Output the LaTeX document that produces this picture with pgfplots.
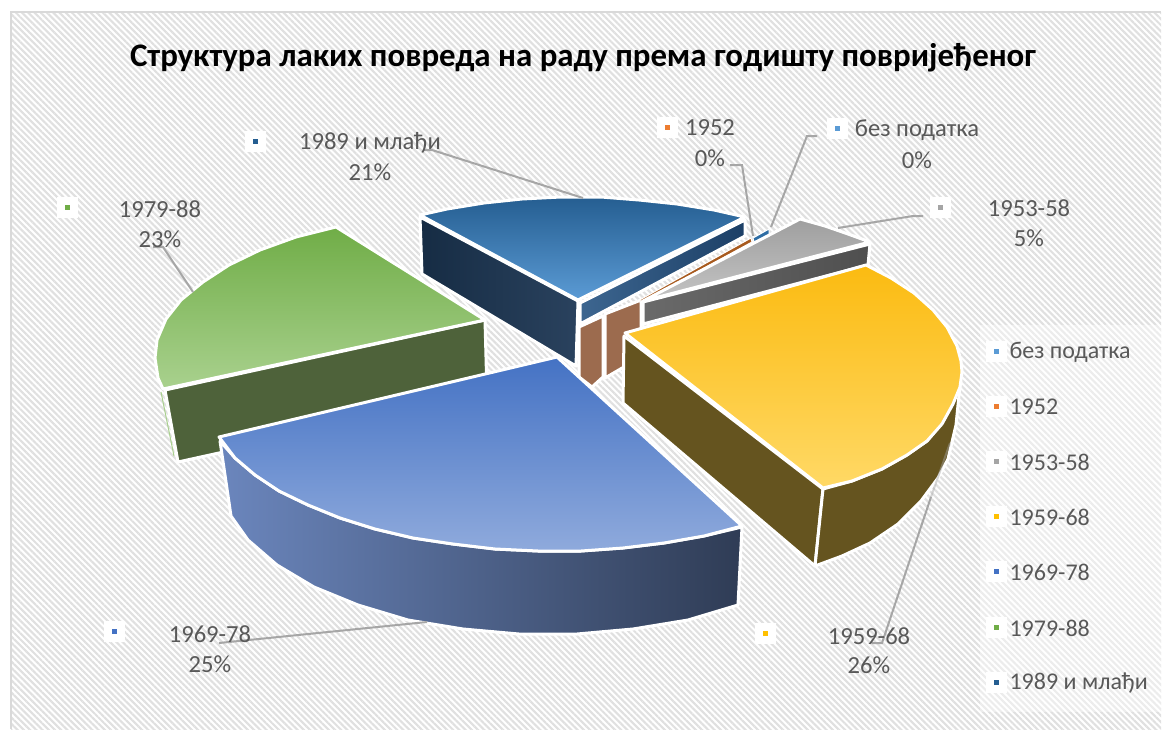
\documentclass[border=0pt]{standalone}
\usepackage{pgfplots}
\pgfplotsset{compat=1.18}
\usepackage{fontspec}
\setmainfont{Carlito}
\usetikzlibrary{patterns.meta}
\definecolor{lbl}{HTML}{595959}
\definecolor{lead}{HTML}{A6A6A6}
\definecolor{HTML1}{HTML}{162C44}\definecolor{HTML2}{HTML}{2A425E}
\definecolor{HTML3}{HTML}{3D6690}\definecolor{HTML4}{HTML}{1C3F66}
\definecolor{HTML5}{HTML}{255E91}\definecolor{HTML6}{HTML}{5B9BD5}
\definecolor{HTML7}{HTML}{9C6B4E}\definecolor{HTML8}{HTML}{A85A1E}\definecolor{HTML9}{HTML}{2E6DA4}
\definecolor{HTMLa}{HTML}{6A6A6A}\definecolor{HTMLb}{HTML}{4F4F4F}
\definecolor{HTMLc}{HTML}{9F9F9F}\definecolor{HTMLd}{HTML}{C4C4C4}
\definecolor{HTMLe}{HTML}{A9D18E}\definecolor{HTMLf}{HTML}{4E623A}
\definecolor{HTMLg}{HTML}{70AD47}\definecolor{HTMLh}{HTML}{A9D18E}
\definecolor{HTMLi}{HTML}{65541F}\definecolor{HTMLj}{HTML}{FBBB11}\definecolor{HTMLk}{HTML}{FFD966}
\definecolor{HTMLl}{HTML}{6B86BD}\definecolor{HTMLm}{HTML}{2F3C55}
\definecolor{HTMLn}{HTML}{4472C4}\definecolor{HTMLo}{HTML}{8FAADC}
\definecolor{HTMLp}{HTML}{5B9BD5}\definecolor{HTMLq}{HTML}{ED7D31}\definecolor{HTMLr}{HTML}{A5A5A5}
\definecolor{HTMLs}{HTML}{FFC000}\definecolor{HTMLt}{HTML}{4472C4}\definecolor{HTMLu}{HTML}{70AD47}\definecolor{HTMLv}{HTML}{255E91}
\pgfplotsset{
 face/.style={draw=white,line width=3pt,line join=round,forget plot},
 leader/.style={draw=lead,line width=2pt,forget plot},
 halo/.style={only marks,mark=square*,mark size=10pt,mark options={draw=white,fill=white},forget plot},
 dot/.style={only marks,mark=square*,mark size=2.2pt,mark options={draw=#1,fill=#1},forget plot},
}
\newcommand{\lab}[3]{\node[text=lbl,font=\fontsize{24.6}{28}\selectfont,anchor=center] at (axis cs:#1,#2) {#3};}
\newcommand{\leg}[2]{\node[text=lbl,font=\fontsize{24}{28}\selectfont,anchor=west] at (axis cs:1006,#1) {#2};}
\begin{document}
\begin{tikzpicture}
\path[use as bounding box] (0,0) rectangle (1162pt,731pt);
\begin{axis}[at={(0,0)},anchor=south west,scale only axis,width=1162pt,height=731pt,
  xmin=0,xmax=1162,ymin=0,ymax=731,y dir=reverse,hide axis,clip=false]
% background
\addplot[draw=none,fill=white,forget plot] coordinates {(0,0)(1162,0)(1162,731)(0,731)} --cycle;
\addplot[draw=none,pattern={Lines[angle=-45,distance=4.4pt,line width=2.1pt]},pattern color=black!12,forget plot] coordinates {(11,12)(1161,12)(1161,729)(11,729)} --cycle;
\addplot[draw=black!15,line width=2pt,forget plot] coordinates {(11,729)(11,12)(1161,12)};
% legend backing
\addplot[draw=none,fill=white,fill opacity=.4,forget plot] coordinates {(980,325)(1161,325)(1161,712)(980,712)} --cycle;
% navy 1989
\addplot[face,left color=HTML1,right color=HTML2] coordinates {(420,217)(578,301)(576,366)(422,274)} --cycle;
\addplot[face,left color=HTML3,right color=HTML4] coordinates {(580,303)(745,220)(745,236)(580,324)} --cycle;
\addplot[face,top color=HTML5,bottom color=HTML6] coordinates {(420,215)(447,209)(484,203)(522,199)(561,197)(601,197)(639,200)(677,204)(714,210)(745,217)(578,300)} --cycle;
% 1952
\addplot[face,fill=HTML7] coordinates {(579,327)(603,316)(603,377)(592,387)(579,377)} --cycle;
\addplot[face,fill=HTML7] coordinates {(605,314)(641,300)(641,357)(605,378)} --cycle;
\addplot[draw=white,line width=1pt,fill=HTML8,forget plot] coordinates {(751,238)(752,242)(645,300)(636,302)} --cycle;
% no data
\addplot[draw=white,line width=1pt,fill=HTML9,forget plot] coordinates {(753,238)(769,229)(769,235)(754,242)} --cycle;
% gray
\addplot[face,left color=HTMLa,right color=HTMLb] coordinates {(643,302)(870,244)(868,265)(643,324)} --cycle;
\addplot[face,top color=HTMLc,bottom color=HTMLd] coordinates {(643,301)(800,219)(825,226)(848,234)(870,242)} --cycle;
% green
\addplot[draw=HTMLe,line width=1pt,forget plot] coordinates {(161,392)(174,456)};
\addplot[face,fill=HTMLf] coordinates {(165,390)(485,320)(487,394)(178,462)} --cycle;
\addplot[face,top color=HTMLg,bottom color=HTMLh] coordinates {(336,227)(296,237)(260,250)(229,265)(203,282)(181,300)(166,319)(157,340)(155,358)(158,378)(163,389)(485,320)} --cycle;
% yellow
\addplot[face,fill=HTMLi] coordinates {(624,336)(823,489)(815,566)(623,403)} --cycle;
\addplot[face,fill=HTMLi] coordinates {(960,385)(959,387)(952,404)(941,424)(927,441)(907,455)(882,469)(852,481)(823,489)(815,566)(842,556)(870,543)(898,524)(921,501)(938,478)(948,459)(956,425)} --cycle;
\addplot[face,top color=HTMLj,bottom color=HTMLk] coordinates {(625,333)(866,265)(891,278)(914,293)(933,310)(947,327)(957,346)(961,361)(962,372)(960,387)(953,404)(942,424)(927,441)(907,455)(882,469)(852,481)(823,488)} --cycle;
% blue 1969
\addplot[face,left color=HTMLl,right color=HTMLm] coordinates {(742,527)(704,536)(664,543)(623,548)(581,551)(538,551)(495,549)(453,544)(413,538)(375,529)(340,518)(308,505)(279,491)(255,475)(235,458)(220,441)(231,516)(248,540)(277,565)(314,587)(358,605)(408,620)(463,629)(519,634)(577,634)(633,629)(688,620)(738,605)} --cycle;
\addplot[face,top color=HTMLn,bottom color=HTMLo] coordinates {(557,357)(742,526)(704,536)(664,543)(623,548)(581,551)(538,551)(495,549)(453,544)(413,538)(375,529)(340,518)(308,505)(279,491)(255,475)(235,458)(219,437)} --cycle;
% leaders
\addplot[leader] coordinates {(423,150)(432,150)(583,198)};
\addplot[leader] coordinates {(730,165)(742,165)(753,236)};
\addplot[leader] coordinates {(817,136)(807,136)(771,227)};
\addplot[leader] coordinates {(923,216)(913,216)(838,228)};
\addplot[leader] coordinates {(153,247)(163,247)(193,292)};
\addplot[leader] coordinates {(219,643)(427,622)};
\addplot[leader] coordinates {(872,643)(882,643)(931,497)};
\addplot[leader,draw opacity=.45] coordinates {(931,497)(950,443)};
% halo marks
\addplot[halo] coordinates {(67,207)(255,141)(667,127)(837,128)(940,207)(114,631)(765,633)(996,351)(996,406)(996,461)(996,516)(996,571)(996,627)(996,682)};
\addplot[dot=HTMLp] coordinates {(837,128)(996,351)};
\addplot[dot=HTMLq] coordinates {(667,127)(996,406)};
\addplot[dot=HTMLr] coordinates {(940,207)(996,461)};
\addplot[dot=HTMLs] coordinates {(765,633)(996,516)};
\addplot[dot=HTMLt] coordinates {(114,631)(996,571)};
\addplot[dot=HTMLu] coordinates {(67,207)(996,627)};
\addplot[dot=HTMLv] coordinates {(255,141)(996,682)};
% text
\node[font=\fontsize{32.9}{38}\selectfont\bfseries,text=black] at (axis cs:583,58) {Структура лаких повреда на раду према годишту повријеђеног};
\lab{370}{143}{1989 и млађи}\lab{370}{172}{21\%}
\lab{710}{128}{1952}\lab{710}{158}{0\%}
\lab{917}{130}{без податка}\lab{917}{160}{0\%}
\lab{1029}{208}{1953-58}\lab{1029}{238}{5\%}
\lab{160}{209}{1979-88}\lab{160}{239}{23\%}
\lab{210}{634}{1969-78}\lab{210}{664}{25\%}
\lab{869}{636}{1959-68}\lab{869}{665}{26\%}
\leg{352}{без податка}\leg{407}{1952}\leg{462}{1953-58}\leg{517}{1959-68}\leg{572}{1969-78}\leg{628}{1979-88}\leg{683}{1989 и млађи}
\end{axis}
\end{tikzpicture}
\end{document}
